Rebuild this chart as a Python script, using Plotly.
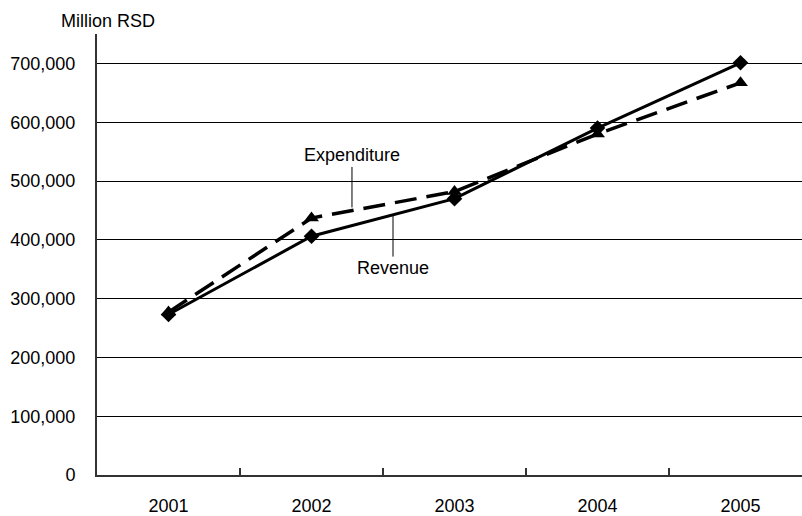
import plotly.graph_objects as go

years = ["2001", "2002", "2003", "2004", "2005"]
revenue = [273000, 406000, 470000, 590000, 701000]
expenditure = [277000, 437000, 482000, 580000, 667000]
y_ticks = [0, 100000, 200000, 300000, 400000, 500000, 600000, 700000]
y_tick_text = ["0", "100,000", "200,000", "300,000", "400,000", "500,000", "600,000", "700,000"]

FONT = "Liberation Sans, Arial, sans-serif"
FS = 18
W, H = 802, 516
M_L, M_R, M_T, M_B = 97, 0, 34, 39
PLOT_W = W - M_L - M_R
PLOT_H = H - M_T - M_B

fig = go.Figure()
fig.add_trace(go.Scatter(
    x=years, y=revenue, name="Revenue", mode="lines+markers",
    line=dict(color="black", width=3),
    marker=dict(symbol="diamond", size=12, color="black"),
))
fig.add_trace(go.Scatter(
    x=years, y=expenditure, name="Expenditure", mode="lines+markers",
    line=dict(color="black", width=3.5, dash="22px,10px"),
    marker=dict(symbol="triangle-up", size=13, color="black"),
))

# leader-line labels
fig.add_annotation(x=1.283, y=455000, text="Expenditure", showarrow=True,
                   arrowhead=0, arrowwidth=1, arrowcolor="black",
                   ax=0, ay=-52, font=dict(family=FONT, size=FS, color="black"))
fig.add_annotation(x=1.57, y=442000, text="Revenue", showarrow=True,
                   arrowhead=0, arrowwidth=1, arrowcolor="black",
                   ax=0, ay=53, font=dict(family=FONT, size=FS, color="black"))

# unit label above the value axis
fig.add_annotation(x=(108 - M_L) / PLOT_W, y=(H - M_B - 21) / PLOT_H,
                   xref="paper", yref="paper",
                   xanchor="center", yanchor="middle", showarrow=False,
                   text="Million RSD", font=dict(family=FONT, size=FS, color="black"))

fig.update_layout(
    width=W, height=H,
    margin=dict(l=M_L, r=M_R, t=M_T, b=M_B),
    paper_bgcolor="white", plot_bgcolor="white",
    showlegend=False,
    font=dict(family=FONT, size=FS, color="black"),
)
fig.update_xaxes(
    type="category", range=[-0.5, 4.43],
    showline=True, linecolor="#333", linewidth=2,
    ticks="inside", tickson="boundaries", ticklen=7, tickcolor="#333", tickwidth=1.5,
    showgrid=False, ticklabelstandoff=13,
    tickfont=dict(family=FONT, size=FS, color="black"),
)
fig.update_yaxes(
    range=[0, 750000], tickvals=y_ticks, ticktext=y_tick_text,
    showline=True, linecolor="#333", linewidth=2,
    showgrid=True, gridcolor="black", gridwidth=1,
    zeroline=False, ticks="", ticklabelstandoff=16,
    tickfont=dict(family=FONT, size=FS, color="black"),
)

fig.write_html("out.html")
